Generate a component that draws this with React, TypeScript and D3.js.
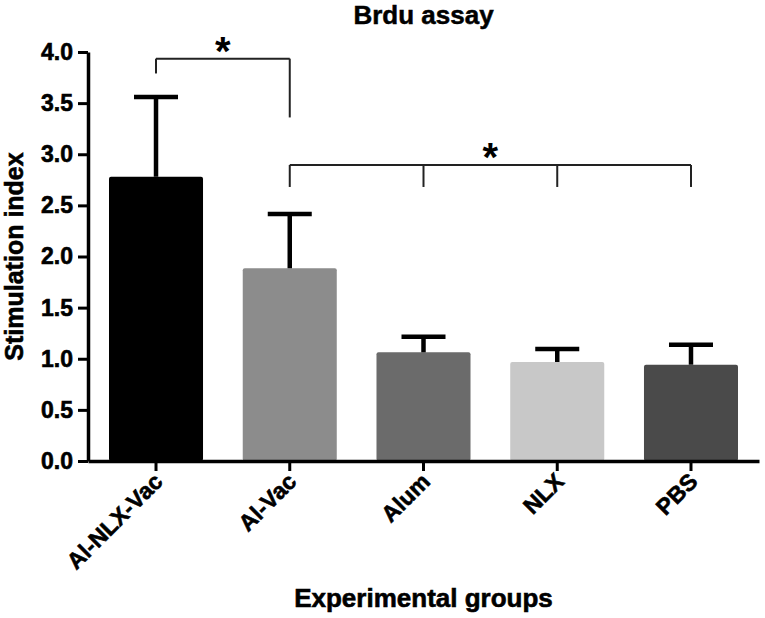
import React, { useEffect, useRef } from 'react';
import * as d3 from 'd3';

// Brdu assay - stimulation index per experimental group
const groups = ['Al-NLX-Vac', 'Al-Vac', 'Alum', 'NLX', 'PBS'];
const means = [2.78, 1.885, 1.063, 0.968, 0.942];
const errors = [0.78, 0.53, 0.153, 0.127, 0.195];
const barColors = ['#000000', '#8c8c8c', '#6b6b6b', '#c8c8c8', '#4a4a4a'];
const yTicks = [0, 0.5, 1.0, 1.5, 2.0, 2.5, 3.0, 3.5, 4.0];

// significance brackets: groups joined, level of the bar, where each leg ends
const bracketGroups = [['Al-NLX-Vac', 'Al-Vac'], ['Al-Vac', 'Alum', 'NLX', 'PBS']];
const bracketLevels = [3.935, 2.895];
const bracketLegEnds = [[3.79, 3.36], [2.68, 2.68, 2.68, 2.68]];

const W = 765;
const H = 618;
const FONT = '"Liberation Sans", Arial, Helvetica, sans-serif';

const App: React.FC = () => {
  const svgRef = useRef<SVGSVGElement>(null);

  useEffect(() => {
    if (!svgRef.current) return;
    const svg = d3.select(svgRef.current);
    svg.selectAll('*').remove();

    const margin = { top: 52, right: 6, bottom: 157, left: 88 };

    const x = d3.scaleBand<string>()
      .domain(groups)
      .range([margin.left, W - margin.right])
      .paddingInner(0.297)
      .paddingOuter(0.157);

    const y = d3.scaleLinear()
      .domain([0, 4])
      .range([H - margin.bottom, margin.top]);

    const g = svg.append('g').style('font-family', FONT);

    // bars
    g.selectAll('.bar')
      .data(groups)
      .enter()
      .append('rect')
      .attr('class', 'bar')
      .attr('x', d => x(d)!)
      .attr('y', (d, i) => y(means[i]))
      .attr('width', x.bandwidth())
      .attr('height', (d, i) => y(0) - y(means[i]))
      .attr('rx', 2)
      .attr('fill', (d, i) => barColors[i]);

    // error bars (upper only)
    const eb = g.selectAll('.err')
      .data(groups)
      .enter()
      .append('g')
      .attr('class', 'err')
      .attr('stroke', '#000')
      .attr('stroke-width', 4.5);
    eb.append('line')
      .attr('x1', d => x(d)! + x.bandwidth() / 2)
      .attr('x2', d => x(d)! + x.bandwidth() / 2)
      .attr('y1', (d, i) => y(means[i]))
      .attr('y2', (d, i) => y(means[i] + errors[i]));
    eb.append('line')
      .attr('x1', d => x(d)! + x.bandwidth() / 2 - 22)
      .attr('x2', d => x(d)! + x.bandwidth() / 2 + 22)
      .attr('y1', (d, i) => y(means[i] + errors[i]))
      .attr('y2', (d, i) => y(means[i] + errors[i]));

    // y axis
    const yAxis = g.append('g')
      .attr('transform', `translate(${margin.left},0)`)
      .call(d3.axisLeft(y).tickValues(yTicks).tickFormat(d3.format('.1f')).tickSize(10).tickSizeOuter(0).tickPadding(5));
    yAxis.select('.domain').attr('stroke', '#000').attr('stroke-width', 3.5);
    yAxis.selectAll('.tick line').attr('stroke', '#000').attr('stroke-width', 3);
    yAxis.selectAll('.tick text')
      .attr('fill', '#000')
      .attr('stroke', '#000')
      .attr('stroke-width', 0.6)
      .style('font-family', FONT)
      .style('font-size', '23px')
      .style('font-weight', 'bold');

    // x axis
    const xAxis = g.append('g')
      .attr('transform', `translate(0,${y(0)})`)
      .call(d3.axisBottom(x).tickSize(10).tickSizeOuter(0).tickFormat(() => ''));
    xAxis.select('.domain').attr('stroke', '#000').attr('stroke-width', 3.5);
    xAxis.selectAll('.tick line').attr('stroke', '#000').attr('stroke-width', 3);

    g.selectAll('.xlabel')
      .data(groups)
      .enter()
      .append('text')
      .attr('class', 'xlabel')
      .attr('transform', d => `translate(${x(d)! + x.bandwidth() / 2 + 8},${y(0) + 22}) rotate(-45)`)
      .attr('text-anchor', 'end')
      .style('font-size', '23px')
      .style('font-weight', 'bold')
      .attr('fill', '#000')
      .attr('stroke', '#000')
      .attr('stroke-width', 0.6)
      .text(d => d);

    // significance brackets
    bracketGroups.forEach((bg, bi) => {
      const ly = y(bracketLevels[bi]);
      const xs = bg.map(name => x(name)! + x.bandwidth() / 2);
      const br = g.append('g').attr('stroke', '#222').attr('stroke-width', 2).attr('fill', 'none');
      br.append('line')
        .attr('x1', xs[0]).attr('x2', xs[xs.length - 1])
        .attr('y1', ly).attr('y2', ly);
      xs.forEach((xx, k) => {
        br.append('line')
          .attr('x1', xx).attr('x2', xx)
          .attr('y1', ly).attr('y2', y(bracketLegEnds[bi][k]));
      });
      g.append('text')
        .attr('x', (xs[0] + xs[xs.length - 1]) / 2)
        .attr('y', ly + 6)
        .attr('text-anchor', 'middle')
        .style('font-size', '40px')
        .style('font-weight', 'bold')
        .attr('fill', '#000')
        .text('*');
    });

    // titles
    g.append('text')
      .attr('x', (margin.left + W - margin.right) / 2)
      .attr('y', 24)
      .attr('text-anchor', 'middle')
      .style('font-size', '26px')
      .style('font-weight', 'bold')
      .attr('stroke', '#000')
      .attr('stroke-width', 0.5)
      .text('Brdu assay');

    g.append('text')
      .attr('transform', `translate(23,${(y(0) + y(4)) / 2}) rotate(-90)`)
      .attr('text-anchor', 'middle')
      .style('font-size', '25px')
      .style('font-weight', 'bold')
      .attr('stroke', '#000')
      .attr('stroke-width', 0.6)
      .text('Stimulation index');

    g.append('text')
      .attr('x', (margin.left + W - margin.right) / 2)
      .attr('y', 607)
      .attr('text-anchor', 'middle')
      .style('font-size', '26px')
      .style('font-weight', 'bold')
      .attr('stroke', '#000')
      .attr('stroke-width', 0.6)
      .text('Experimental groups');
  }, []);

  return (
    <svg
      ref={svgRef}
      width={W}
      height={H}
      style={{ display: 'block', position: 'absolute', left: 0, top: 0, background: '#fff' }}
    />
  );
};

export default App;
